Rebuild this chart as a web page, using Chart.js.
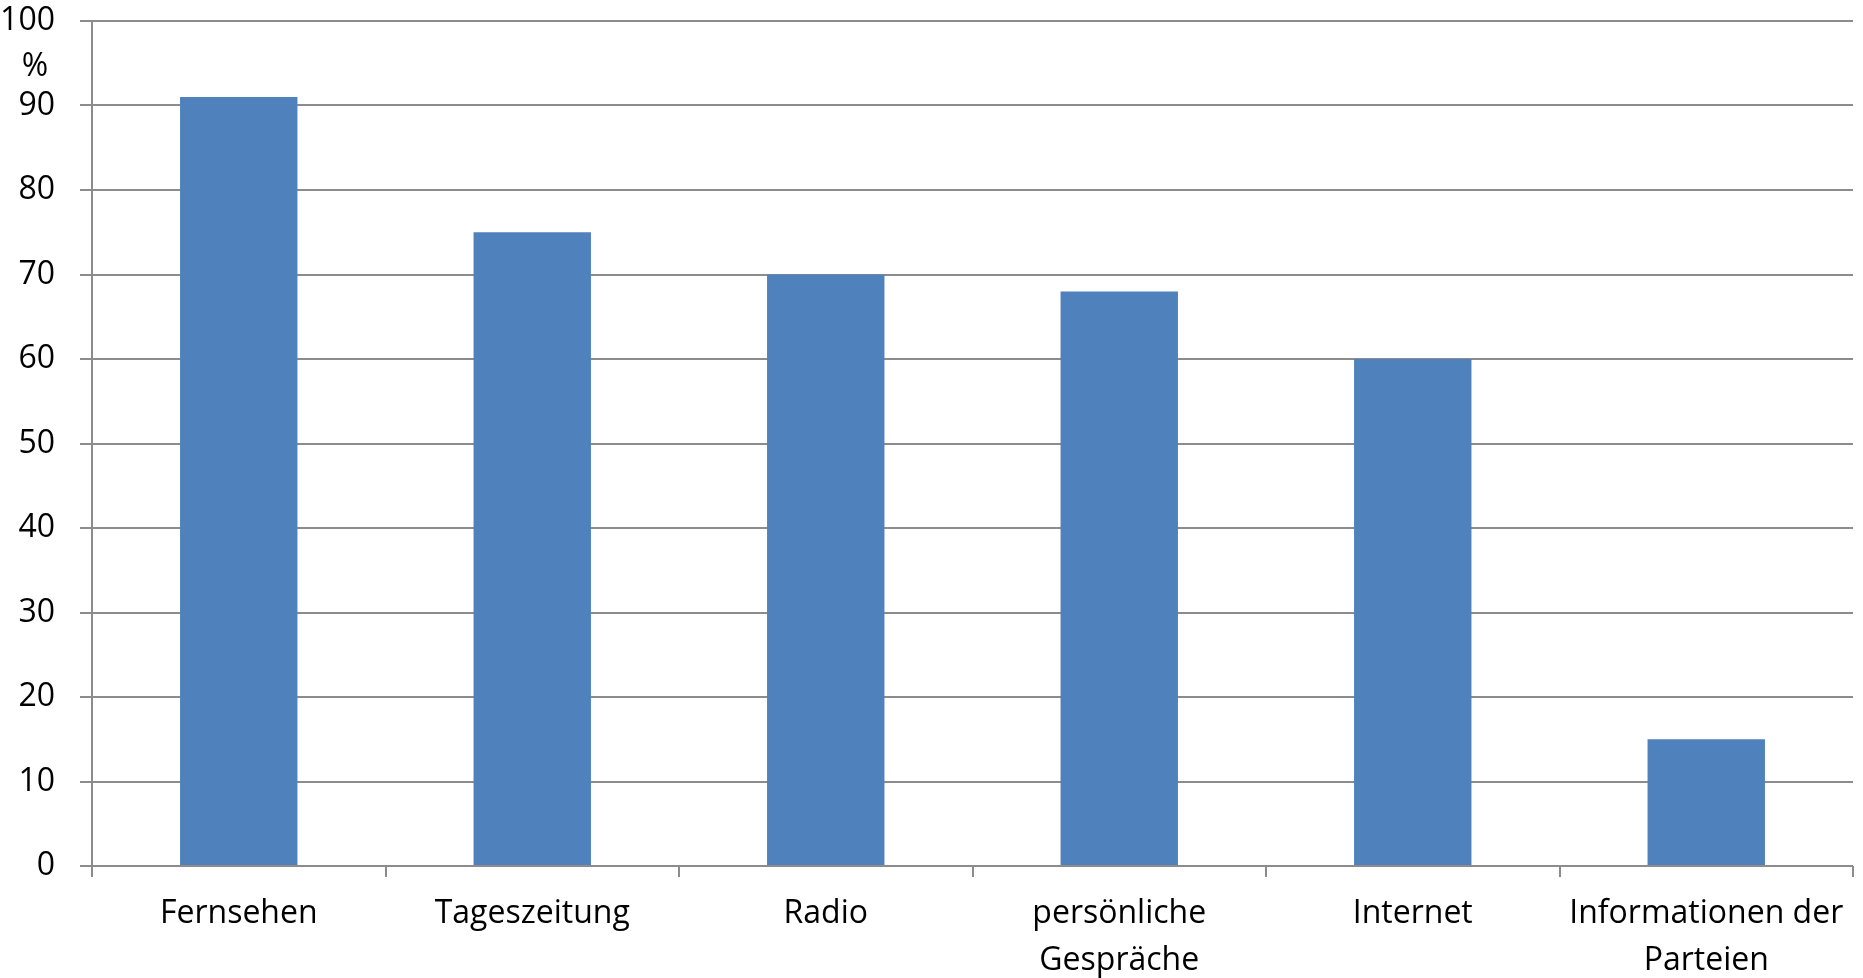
<!DOCTYPE html>
<html>
<head>
<meta charset="utf-8">
<script src="https://cdn.jsdelivr.net/npm/chart.js@4/dist/chart.umd.min.js"></script>
<style>
  html, body { margin: 0; padding: 0; background: #fff; }
  #wrap { width: 1863px; height: 978px; }
</style>
</head>
<body>
<div id="wrap"><canvas id="c" width="1863" height="978"></canvas></div>
<script>
// Informationsquellen, Anteil in Prozent
const categories = ['Fernsehen', 'Tageszeitung', 'Radio', ['persönliche', 'Gespräche'], 'Internet', ['Informationen der', 'Parteien']];
const values = [91, 75, 70, 68, 60, 15];
const yTicks = [0, 10, 20, 30, 40, 50, 60, 70, 80, 90, 100];
const unitLabel = '%';

const FONT = "'Open Sans', 'Liberation Sans', sans-serif";
const GRID = '#8c8c8c';

// Einheit "%" links neben der Achse zwischen 100 und 90
const unitPlugin = {
  id: 'unitLabel',
  afterDraw(chart) {
    const y = chart.scales.y;
    const ctx = chart.ctx;
    ctx.save();
    ctx.font = '32px ' + FONT;
    ctx.fillStyle = '#000';
    ctx.textAlign = 'center';
    ctx.textBaseline = 'middle';
    ctx.fillText(unitLabel, 35, y.getPixelForValue(94.6));
    ctx.restore();
  }
};

new Chart(document.getElementById('c'), {
  type: 'bar',
  data: {
    labels: categories,
    datasets: [{
      data: values,
      backgroundColor: '#4F81BD',
      borderWidth: 0,
      categoryPercentage: 1,
      barPercentage: 0.4
    }]
  },
  options: {
    responsive: false,
    animation: false,
    layout: { padding: { top: 0, right: 10, left: 0, bottom: 0 } },
    plugins: { legend: { display: false }, tooltip: { enabled: false } },
    scales: {
      x: {
        afterFit: s => { s.height = 112; },
        grid: {
          offset: true,
          drawOnChartArea: false,
          tickLength: 11,
          color: GRID,
          lineWidth: 2
        },
        border: { display: false },
        ticks: {
          color: '#000',
          font: { family: FONT, size: 32, lineHeight: 1.45 },
          padding: 14,
          maxRotation: 0,
          autoSkip: false
        }
      },
      y: {
        min: 0,
        max: 100,
        afterFit: s => { s.width = 92; s.paddingTop = 21; s.paddingBottom = 0; },
        afterBuildTicks: s => { s.ticks = yTicks.map(v => ({ value: v })); },
        grid: {
          color: GRID,
          lineWidth: 2,
          tickLength: 12
        },
        border: { color: GRID, width: 2 },
        ticks: {
          color: '#000',
          font: { family: FONT, size: 32 },
          padding: 25
        }
      }
    }
  },
  plugins: [unitPlugin]
});
</script>
</body>
</html>
